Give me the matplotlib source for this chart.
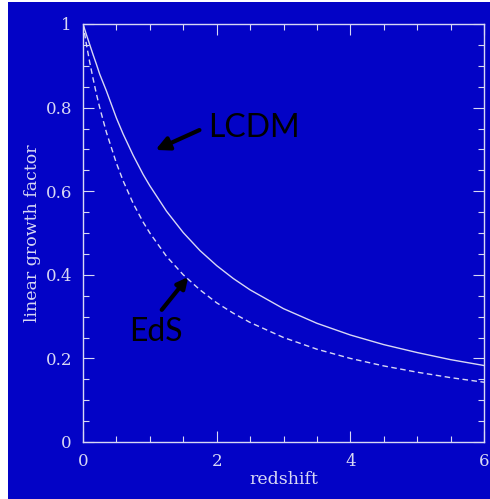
import matplotlib.pyplot as plt
from matplotlib.patches import Rectangle
from matplotlib.ticker import MultipleLocator, FuncFormatter

# values
redshift = [0, 0.05, 0.1, 0.15, 0.2, 0.25, 0.35, 0.5, 0.6, 0.75, 0.9, 1.0, 1.25, 1.5, 1.75,
            2.0, 2.25, 2.5, 3.0, 3.5, 4.0, 4.5, 5.0, 5.5, 6.0]
growth_lcdm = [1.0, 0.975, 0.951, 0.927, 0.904, 0.880, 0.840, 0.775, 0.737, 0.686, 0.640,
               0.613, 0.552, 0.501, 0.458, 0.422, 0.391, 0.364, 0.319, 0.284, 0.256,
               0.233, 0.214, 0.197, 0.183]
growth_eds = [1.0, 0.952, 0.909, 0.870, 0.833, 0.800, 0.741, 0.667, 0.625, 0.571, 0.526,
              0.500, 0.444, 0.400, 0.364, 0.333, 0.308, 0.286, 0.250, 0.222, 0.200,
              0.182, 0.167, 0.154, 0.143]

bg = '#0303C6'
fg = '#D8D8F4'

fig = plt.figure(figsize=(4.9, 4.99), dpi=100, facecolor='white')
fig.patches.append(Rectangle((8 / 490, 0), 1, 1 - 2 / 499, transform=fig.transFigure,
                             facecolor=bg, edgecolor='none', zorder=-10))

ax = fig.add_axes([83 / 490, 1 - 442 / 499, 401 / 490, 418 / 499])
ax.set_facecolor(bg)

ax.plot(redshift, growth_lcdm, color=fg, lw=1.0)
ax.plot(redshift, growth_eds, color=fg, lw=1.0, dashes=(4, 2.5))

ax.set_xlim(0, 6)
ax.set_ylim(0, 1)
ax.xaxis.set_major_locator(MultipleLocator(2))
ax.xaxis.set_minor_locator(MultipleLocator(0.5))
ax.yaxis.set_major_locator(MultipleLocator(0.2))
ax.yaxis.set_minor_locator(MultipleLocator(0.05))
ax.xaxis.set_major_formatter(FuncFormatter(lambda v, p: '%g' % v))
ax.yaxis.set_major_formatter(FuncFormatter(lambda v, p: '%g' % round(v, 2)))

for s in ax.spines.values():
    s.set_color(fg)
    s.set_linewidth(1.0)
ax.tick_params(which='both', direction='in', top=True, right=True, color=fg,
               labelcolor=fg, width=0.8)
ax.tick_params(which='major', length=8, labelsize=12, pad=8)
ax.tick_params(which='minor', length=4)
for lab in ax.get_xticklabels() + ax.get_yticklabels():
    lab.set_fontfamily('DejaVu Serif')

ax.set_xlabel('redshift', color=fg, fontsize=12.5, family='DejaVu Serif', labelpad=1)
ax.set_ylabel('linear growth factor', color=fg, fontsize=12.5, family='DejaVu Serif',
              labelpad=3)

ax.annotate('', xy=(1.047, 0.696), xytext=(1.78, 0.749),
            arrowprops=dict(arrowstyle='-|>', color='black', lw=3, mutation_scale=20))
ax.text(1.87, 0.751, 'LCDM', color='black', fontsize=23, family='Lato',
        ha='left', va='center')
ax.annotate('', xy=(1.601, 0.400), xytext=(1.152, 0.311),
            arrowprops=dict(arrowstyle='-|>', color='black', lw=3, mutation_scale=16))
ax.text(1.09, 0.263, 'EdS', color='black', fontsize=23, family='Lato',
        ha='center', va='center')

plt.savefig('out.png', dpi=100, facecolor=fig.get_facecolor())
